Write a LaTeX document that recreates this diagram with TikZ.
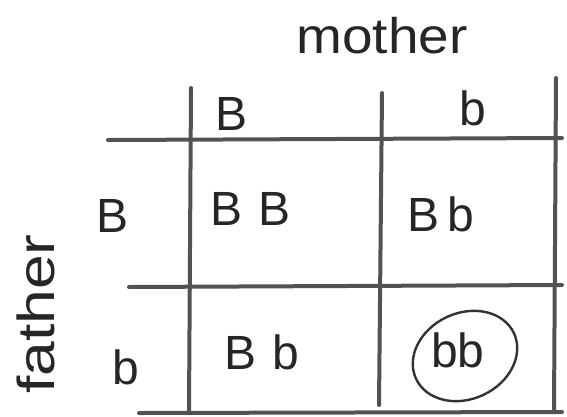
\documentclass[tikz,border=0pt]{standalone}
\usepackage{fontspec}
\setmainfont{Liberation Sans}
\begin{document}
\begin{tikzpicture}[x=1pt,y=-1pt,
  grid/.style={line width=4pt, draw=black!68, line cap=round},
  lbl/.style={font=\fontsize{48}{52}\selectfont, text=black!85, inner sep=0pt},
  cell/.style={font=\fontsize{48}{52}\selectfont, text=black!85, inner sep=0pt}]
\useasboundingbox (0,0) rectangle (567,416);
% grid
\coordinate (v1t) at (191,88);  \coordinate (v1b) at (189,410);
\coordinate (v2t) at (382,93);  \coordinate (v2b) at (379,405);
\coordinate (v3t) at (556,78);  \coordinate (v3b) at (554,410);
\coordinate (h1l) at (108,140); \coordinate (h1r) at (562,138);
\coordinate (h2l) at (129,287); \coordinate (h2r) at (562,285);
\coordinate (h3l) at (139,413); \coordinate (h3r) at (562,412);
\draw[grid] (v1t) -- (v1b);
\draw[grid] (v2t) -- (v2b);
\draw[grid] (v3t) -- (v3b);
\draw[grid] (h1l) -- (h1r);
\draw[grid] (h2l) -- (h2r);
\draw[grid] (h3l) -- (h3r);
% labels
\node[lbl, font=\fontsize{50}{54}\selectfont, xscale=1.1] (mother) at (382,36) {mother};
\node[lbl, rotate=90, font=\fontsize{52}{56}\selectfont, xscale=1.2] (father) at (36,314) {father};
\node[lbl] (mB) at (232,114) {B};
\node[lbl] (mb) at (473,108) {b};
\node[lbl] (fB) at (113,216) {B};
\node[lbl] (fb) at (126,367) {b};
% cells
\node[cell] (BB) at (251,209) {B\,\,B};
\node[cell] (Bb1) at (441,214) {B\,b};
\node[cell] (Bb2) at (262,352) {B\,\,b};
\node[cell] (bb) at (458,350) {bb};
\draw[line width=2.4pt, draw=black!80, rotate around={25:(465,356)}] (465,356) ellipse [x radius=54, y radius=43];
\end{tikzpicture}
\end{document}
